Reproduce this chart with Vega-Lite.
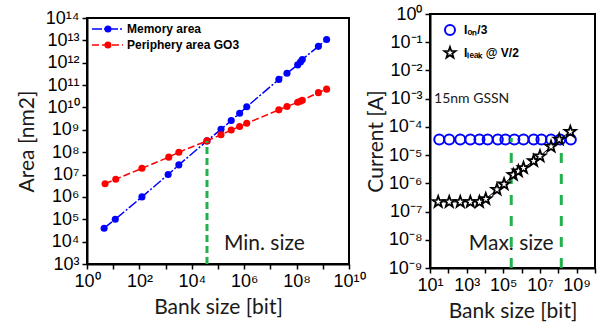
{
  "$schema": "https://vega.github.io/schema/vega-lite/v6.json",
  "padding": {"left": 15, "top": 4, "right": 4, "bottom": 4},
  "spacing": -3,
  "center": true,
  "config": {
    "view": {"stroke": "black", "strokeWidth": 2},
    "axis": {
      "domainColor": "black", "domainWidth": 2,
      "tickColor": "black", "tickWidth": 1.5, "tickSize": 5,
      "labelFont": "Liberation Sans", "labelFontSize": 18, "labelColor": "black",
      "titleFont": "Lato", "titleFontSize": 21, "titleFontWeight": "normal", "titleColor": "#1a1a1a",
      "grid": false, "labelPadding": 3, "labelFlush": false
    }
  },
  "hconcat": [
    {
      "width": 262,
      "height": 246,
      "data": {"values": [
        {"series": "Memory area", "bank": 4.5, "area": 40000},
        {"series": "Memory area", "bank": 12, "area": 100000},
        {"series": "Memory area", "bank": 125, "area": 1000000},
        {"series": "Memory area", "bank": 1250, "area": 10000000},
        {"series": "Memory area", "bank": 3200, "area": 27000000},
        {"series": "Memory area", "bank": 38000, "area": 320000000},
        {"series": "Memory area", "bank": 130000, "area": 1050000000},
        {"series": "Memory area", "bank": 320000, "area": 2600000000},
        {"series": "Memory area", "bank": 670000, "area": 5500000000},
        {"series": "Memory area", "bank": 1250000, "area": 10700000000},
        {"series": "Memory area", "bank": 21000000, "area": 180000000000},
        {"series": "Memory area", "bank": 43000000, "area": 340000000000},
        {"series": "Memory area", "bank": 110000000, "area": 800000000000},
        {"series": "Memory area", "bank": 140000000, "area": 1070000000000},
        {"series": "Memory area", "bank": 165000000, "area": 1400000000000},
        {"series": "Memory area", "bank": 680000000, "area": 5400000000000},
        {"series": "Memory area", "bank": 1400000000, "area": 11000000000000},
        {"series": "Periphery area GO3", "bank": 4.9, "area": 3900000},
        {"series": "Periphery area GO3", "bank": 12.5, "area": 6200000},
        {"series": "Periphery area GO3", "bank": 125, "area": 19000000},
        {"series": "Periphery area GO3", "bank": 1320, "area": 60000000},
        {"series": "Periphery area GO3", "bank": 3200, "area": 100000000},
        {"series": "Periphery area GO3", "bank": 38000, "area": 320000000},
        {"series": "Periphery area GO3", "bank": 130000, "area": 600000000},
        {"series": "Periphery area GO3", "bank": 320000, "area": 980000000},
        {"series": "Periphery area GO3", "bank": 670000, "area": 1400000000},
        {"series": "Periphery area GO3", "bank": 1250000, "area": 1950000000},
        {"series": "Periphery area GO3", "bank": 21000000, "area": 7800000000},
        {"series": "Periphery area GO3", "bank": 43000000, "area": 11000000000},
        {"series": "Periphery area GO3", "bank": 110000000, "area": 17000000000},
        {"series": "Periphery area GO3", "bank": 140000000, "area": 19000000000},
        {"series": "Periphery area GO3", "bank": 165000000, "area": 21000000000},
        {"series": "Periphery area GO3", "bank": 680000000, "area": 46000000000},
        {"series": "Periphery area GO3", "bank": 1400000000, "area": 66000000000}
      ]},
      "layer": [
        {
          "transform": [{"filter": "datum.series == 'Memory area'"}],
          "mark": {"type": "line", "strokeWidth": 1.5, "color": "#0000ff", "strokeDash": [10, 2, 2, 2]},
          "encoding": {
            "x": {"field": "bank", "type": "quantitative",
              "scale": {"type": "log", "domain": [1, 10000000000], "nice": false},
              "axis": {"title": "Bank size [bit]", "titlePadding": 6,
                "values": [1, 10, 100, 1000, 10000, 100000, 1000000, 10000000, 100000000, 1000000000, 10000000000],
                "labelExpr": "datum.value == 1 ? '10⁰' : datum.value == 100 ? '10²' : datum.value == 10000 ? '10⁴' : datum.value == 1000000 ? '10⁶' : datum.value == 100000000 ? '10⁸' : datum.value == 10000000000 ? '10¹⁰' : ''"}},
            "y": {"field": "area", "type": "quantitative",
              "scale": {"type": "log", "domain": [1000, 100000000000000], "nice": false},
              "axis": {"title": "Area [nm2]", "titlePadding": 8,
                "values": [1000, 10000, 100000, 1000000, 10000000, 100000000, 1000000000, 10000000000, 100000000000, 1000000000000, 10000000000000, 100000000000000],
                "labelExpr": "datum.value == 1000 ? '10³' : datum.value == 10000 ? '10⁴' : datum.value == 100000 ? '10⁵' : datum.value == 1000000 ? '10⁶' : datum.value == 10000000 ? '10⁷' : datum.value == 100000000 ? '10⁸' : datum.value == 1000000000 ? '10⁹' : datum.value == 10000000000 ? '10¹⁰' : datum.value == 100000000000 ? '10¹¹' : datum.value == 1000000000000 ? '10¹²' : datum.value == 10000000000000 ? '10¹³' : '10¹⁴'"}}
          }
        },
        {
          "transform": [{"filter": "datum.series == 'Periphery area GO3'"}],
          "mark": {"type": "line", "strokeWidth": 1.5, "color": "#ff0000", "strokeDash": [7, 3]},
          "encoding": {
            "x": {"field": "bank", "type": "quantitative"},
            "y": {"field": "area", "type": "quantitative"}
          }
        },
        {
          "mark": {"type": "point", "shape": "circle", "filled": true, "size": 50, "opacity": 1},
          "encoding": {
            "x": {"field": "bank", "type": "quantitative"},
            "y": {"field": "area", "type": "quantitative"},
            "color": {"field": "series", "type": "nominal",
              "scale": {"domain": ["Memory area", "Periphery area GO3"], "range": ["#0000ff", "#ff0000"]}, "legend": null}
          }
        },
        {
          "data": {"values": [
            {"series": "Memory area", "bank": 1.55, "area": 32000000000000},
            {"series": "Memory area", "bank": 23.7, "area": 32000000000000}
          ]},
          "mark": {"type": "line", "strokeWidth": 1.5, "color": "#0000ff", "strokeDash": [10, 2, 2, 2]},
          "encoding": {
            "x": {"field": "bank", "type": "quantitative"},
            "y": {"field": "area", "type": "quantitative"}
          }
        },
        {
          "data": {"values": [
            {"series": "Periphery area GO3", "bank": 1.55, "area": 6200000000000},
            {"series": "Periphery area GO3", "bank": 23.7, "area": 6200000000000}
          ]},
          "mark": {"type": "line", "strokeWidth": 1.5, "color": "#ff0000", "strokeDash": [7, 3]},
          "encoding": {
            "x": {"field": "bank", "type": "quantitative"},
            "y": {"field": "area", "type": "quantitative"}
          }
        },
        {
          "data": {"values": [
            {"series": "Memory area", "bank": 6.3, "area": 32000000000000},
            {"series": "Periphery area GO3", "bank": 6.3, "area": 6200000000000}
          ]},
          "mark": {"type": "point", "shape": "circle", "filled": true, "size": 50, "opacity": 1},
          "encoding": {
            "x": {"field": "bank", "type": "quantitative"},
            "y": {"field": "area", "type": "quantitative"},
            "color": {"field": "series", "type": "nominal", "legend": null}
          }
        },
        {
          "data": {"values": [
            {"bank": 33.6, "area": 32000000000000, "label": "Memory area"},
            {"bank": 33.6, "area": 6200000000000, "label": "Periphery area GO3"}
          ]},
          "mark": {"type": "text", "font": "Liberation Sans", "fontSize": 12, "fontWeight": "bold", "color": "black", "align": "left", "baseline": "middle"},
          "encoding": {
            "x": {"field": "bank", "type": "quantitative"},
            "y": {"field": "area", "type": "quantitative"},
            "text": {"field": "label"}
          }
        },
        {
          "data": {"values": [{"bank": 38000, "area": 1000, "hi": 320000000}]},
          "mark": {"type": "rule", "color": "#22b14c", "strokeWidth": 3, "strokeDash": [7, 4]},
          "encoding": {
            "x": {"field": "bank", "type": "quantitative"},
            "y": {"field": "area", "type": "quantitative"},
            "y2": {"field": "hi"}
          }
        },
        {
          "data": {"values": [{"bank": 5900000, "area": 7800, "label": "Min. size"}]},
          "mark": {"type": "text", "font": "Lato", "fontSize": 21, "color": "#1a1a1a", "align": "center", "baseline": "middle"},
          "encoding": {
            "x": {"field": "bank", "type": "quantitative"},
            "y": {"field": "area", "type": "quantitative"},
            "text": {"field": "label"}
          }
        }
      ]
    },
    {
      "width": 165,
      "height": 254,
      "layer": [
        {
          "data": {"values": [
            {"series": "Ion/3", "bank": 32, "amp": 3.6e-5},
            {"series": "Ion/3", "bank": 112, "amp": 3.6e-5},
            {"series": "Ion/3", "bank": 447, "amp": 3.6e-5},
            {"series": "Ion/3", "bank": 1585, "amp": 3.6e-5},
            {"series": "Ion/3", "bank": 5000, "amp": 3.6e-5},
            {"series": "Ion/3", "bank": 14000, "amp": 3.6e-5},
            {"series": "Ion/3", "bank": 50000, "amp": 3.6e-5},
            {"series": "Ion/3", "bank": 130000, "amp": 3.6e-5},
            {"series": "Ion/3", "bank": 400000, "amp": 3.6e-5},
            {"series": "Ion/3", "bank": 1260000, "amp": 3.6e-5},
            {"series": "Ion/3", "bank": 4500000, "amp": 3.6e-5},
            {"series": "Ion/3", "bank": 12000000, "amp": 3.6e-5},
            {"series": "Ion/3", "bank": 40000000, "amp": 3.6e-5},
            {"series": "Ion/3", "bank": 126000000, "amp": 3.6e-5},
            {"series": "Ion/3", "bank": 480000000, "amp": 3.6e-5},
            {"series": "Ion/3", "bank": 123, "amp": 0.27}
          ]},
          "mark": {"type": "point", "shape": "circle", "filled": false, "color": "#0000ff", "strokeWidth": 2, "size": 100, "opacity": 1},
          "encoding": {
            "x": {"field": "bank", "type": "quantitative",
              "scale": {"type": "log", "domain": [10, 10000000000], "nice": false},
              "axis": {"title": "Bank size [bit]", "titlePadding": 6,
                "values": [10, 100, 1000, 10000, 100000, 1000000, 10000000, 100000000, 1000000000, 10000000000],
                "labelExpr": "datum.value == 10 ? '10¹' : datum.value == 1000 ? '10³' : datum.value == 100000 ? '10⁵' : datum.value == 10000000 ? '10⁷' : datum.value == 1000000000 ? '10⁹' : ''"}},
            "y": {"field": "amp", "type": "quantitative",
              "scale": {"type": "log", "domain": [1e-9, 1], "nice": false},
              "axis": {"title": "Current [A]", "titlePadding": 2,
                "values": [1e-9, 1e-8, 1e-7, 1e-6, 1e-5, 1e-4, 1e-3, 1e-2, 1e-1, 1],
                "labelExpr": "datum.value == 1 ? '10⁰' : datum.value == 0.1 ? '10⁻¹' : datum.value == 0.01 ? '10⁻²' : datum.value == 0.001 ? '10⁻³' : datum.value == 0.0001 ? '10⁻⁴' : datum.value == 0.00001 ? '10⁻⁵' : datum.value == 0.000001 ? '10⁻⁶' : datum.value == 0.0000001 ? '10⁻⁷' : datum.value == 0.00000001 ? '10⁻⁸' : '10⁻⁹'"}}
          }
        },
        {
          "data": {"values": [{"bank": 270000, "amp": 1e-9, "hi": 4e-5}, {"bank": 145000000, "amp": 1e-9, "hi": 4e-5}]},
          "mark": {"type": "rule", "color": "#22b14c", "strokeWidth": 3, "strokeDash": [10, 11]},
          "encoding": {
            "x": {"field": "bank", "type": "quantitative"},
            "y": {"field": "amp", "type": "quantitative"},
            "y2": {"field": "hi"}
          }
        },
        {
          "data": {"values": [
            {"series": "Ileak @ V/2", "bank": 28, "amp": 2.2e-7},
            {"series": "Ileak @ V/2", "bank": 112, "amp": 2.2e-7},
            {"series": "Ileak @ V/2", "bank": 447, "amp": 2.2e-7},
            {"series": "Ileak @ V/2", "bank": 1585, "amp": 2.2e-7},
            {"series": "Ileak @ V/2", "bank": 5000, "amp": 2.2e-7},
            {"series": "Ileak @ V/2", "bank": 11000, "amp": 2.8e-7},
            {"series": "Ileak @ V/2", "bank": 45000, "amp": 6e-7},
            {"series": "Ileak @ V/2", "bank": 110000, "amp": 9.3e-7},
            {"series": "Ileak @ V/2", "bank": 350000, "amp": 2e-6},
            {"series": "Ileak @ V/2", "bank": 660000, "amp": 2.7e-6},
            {"series": "Ileak @ V/2", "bank": 1260000, "amp": 3.5e-6},
            {"series": "Ileak @ V/2", "bank": 4500000, "amp": 6.2e-6},
            {"series": "Ileak @ V/2", "bank": 10000000, "amp": 9.2e-6},
            {"series": "Ileak @ V/2", "bank": 40000000, "amp": 2e-5},
            {"series": "Ileak @ V/2", "bank": 112000000, "amp": 3.6e-5},
            {"series": "Ileak @ V/2", "bank": 450000000, "amp": 6.7e-5}
          ]},
          "layer": [
            {
              "mark": {"type": "line", "color": "black", "strokeWidth": 1},
              "encoding": {
                "x": {"field": "bank", "type": "quantitative"},
                "y": {"field": "amp", "type": "quantitative"}
              }
            },
            {
              "mark": {"type": "point", "filled": false, "fill": "white", "fillOpacity": 1, "color": "black", "strokeWidth": 1.8, "size": 140, "opacity": 1,
                "shape": "M0,-1L0.235,-0.324L0.951,-0.309L0.38,0.124L0.588,0.809L0,0.4L-0.588,0.809L-0.38,0.124L-0.951,-0.309L-0.235,-0.324Z"},
              "encoding": {
                "x": {"field": "bank", "type": "quantitative"},
                "y": {"field": "amp", "type": "quantitative"}
              }
            }
          ]
        },
        {
          "data": {"values": [{"series": "Ileak @ V/2", "bank": 123, "amp": 0.042}]},
          "mark": {"type": "point", "filled": false, "fill": "white", "fillOpacity": 1, "color": "black", "strokeWidth": 1.8, "size": 140, "opacity": 1,
            "shape": "M0,-1L0.235,-0.324L0.951,-0.309L0.38,0.124L0.588,0.809L0,0.4L-0.588,0.809L-0.38,0.124L-0.951,-0.309L-0.235,-0.324Z"},
          "encoding": {
            "x": {"field": "bank", "type": "quantitative"},
            "y": {"field": "amp", "type": "quantitative"}
          }
        },
        {
          "data": {"values": [
            {"bank": 724, "amp": 0.27, "label": "Iₒₙ/3"},
            {"bank": 724, "amp": 0.042, "label": "Iₗₑₐₖ @ V/2"}
          ]},
          "mark": {"type": "text", "font": "Liberation Sans", "fontSize": 12, "fontWeight": "bold", "color": "black", "align": "left", "baseline": "middle"},
          "encoding": {
            "x": {"field": "bank", "type": "quantitative"},
            "y": {"field": "amp", "type": "quantitative"},
            "text": {"field": "label"}
          }
        },
        {
          "data": {"values": [{"bank": 16.6, "amp": 0.001, "label": "15nm GSSN"}]},
          "mark": {"type": "text", "font": "Lato", "fontSize": 14, "color": "#1a1a1a", "align": "left", "baseline": "middle"},
          "encoding": {
            "x": {"field": "bank", "type": "quantitative"},
            "y": {"field": "amp", "type": "quantitative"},
            "text": {"field": "label"}
          }
        },
        {
          "data": {"values": [{"bank": 270000, "amp": 7e-9, "label": "Max. size"}]},
          "mark": {"type": "text", "font": "Lato", "fontSize": 21, "color": "#1a1a1a", "align": "center", "baseline": "middle"},
          "encoding": {
            "x": {"field": "bank", "type": "quantitative"},
            "y": {"field": "amp", "type": "quantitative"},
            "text": {"field": "label"}
          }
        }
      ]
    }
  ]
}
